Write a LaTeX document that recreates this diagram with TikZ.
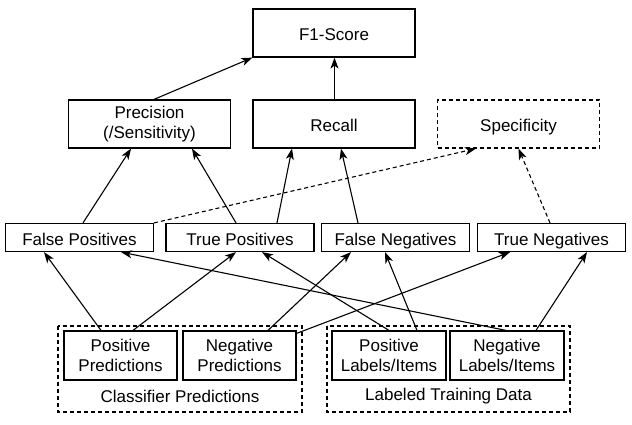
\documentclass[tikz,border=0pt]{standalone}
\usepackage{fontspec}
\setmainfont{Liberation Sans}
\usetikzlibrary{arrows.meta}
\begin{document}
\begin{tikzpicture}[x=1pt,y=-1pt,
  every node/.style={font=\fontsize{17}{20}\selectfont},
  box/.style={draw,line width=1.2pt,rectangle,align=center,inner sep=0pt},
  one/.style={text height=16pt,text depth=0pt},
  bigbox/.style={box,minimum width=162pt,minimum height=48pt},
  rowbox/.style={box,one,minimum width=148pt,minimum height=28pt},
  botbox/.style={box,minimum width=113pt,minimum height=49pt},
  grp/.style={draw,line width=1.1pt,dash pattern=on 4pt off 3pt},
  arr/.style={line width=1.1pt,-{Stealth[length=11pt,width=8pt,inset=3pt]}},
  darr/.style={arr,dash pattern=on 4pt off 3pt}]
\useasboundingbox (0,0) rectangle (632,425);
\fill[white] (0,0) rectangle (632,425);
% groups
\draw[grp] (58,326) rectangle (302,412);
\draw[grp] (327,326) rectangle (570,412);
\node (cp) at (180,396) {Classifier Predictions};
\node (ltd) at (448.5,396) {Labeled Training Data};
% top
\node[bigbox,one] (f1) at (334,33) {F1-Score};
\node[bigbox] (prec) at (149.5,124) {Precision\\(/Sensitivity)};
\node[bigbox,one] (rec) at (334,124) {Recall};
\node[bigbox,one,dash pattern=on 4pt off 3pt] (spec) at (518.5,124) {Specificity};
% row
\node[rowbox] (fp) at (79.5,237.5) {False Positives};
\node[rowbox] (tp) at (240,237.5) {True Positives};
\node[rowbox] (fn) at (395.5,237.5) {False Negatives};
\node[rowbox] (tn) at (551.5,237.5) {True Negatives};
% bottom
\node[botbox] (pp) at (120.5,355.5) {Positive\\Predictions};
\node[botbox] (np) at (239.5,355.5) {Negative\\Predictions};
\node[botbox,minimum width=114pt] (pl) at (389,355.5) {Positive\\Labels/Items};
\node[botbox,minimum width=114pt] (nl) at (507,355.5) {Negative\\Labels/Items};
% arrows top
\draw[arr] ([xshift=4.5pt]prec.north) -- (f1.south west);
\draw[arr] ([xshift=0.5pt]rec.north) -- ([xshift=0.5pt]f1.south);
\draw[arr] ([xshift=3.5pt]fp.north) -- ([xshift=-18.5pt]prec.south);
\draw[arr] ([xshift=-4pt]tp.north) -- ([xshift=42.5pt]prec.south);
\draw[arr] ([xshift=37pt]tp.north) -- ([xshift=-42pt]rec.south);
\draw[arr] ([xshift=-37.5pt]fn.north) -- ([xshift=7pt]rec.south);
\draw[darr] (fp.north east) -- ([xshift=-42.5pt]spec.south);
\draw[darr] ([xshift=-1.5pt]tn.north) -- (spec.south);
% arrows bottom
\draw[arr] ([xshift=-19.5pt]pp.north) -- ([xshift=-35.5pt]fp.south);
\draw[arr] ([xshift=12.5pt]pp.north) -- ([xshift=-4pt]tp.south);
\draw[arr] ([xshift=28.5pt]np.north) -- ([xshift=-44.5pt]fn.south);
\draw[arr] ([yshift=-3pt]np.north east) -- ([xshift=-41.5pt]tn.south);
\draw[arr] (pl.north) -- ([xshift=22pt]tp.south);
\draw[arr] ([xshift=28pt]pl.north) -- ([xshift=-10.5pt]fn.south);
\draw[arr] ([xshift=-1pt]nl.north) -- ([xshift=41.5pt]fp.south);
\draw[arr] ([xshift=29pt]nl.north) -- ([xshift=35.5pt]tn.south);
\end{tikzpicture}
\end{document}
